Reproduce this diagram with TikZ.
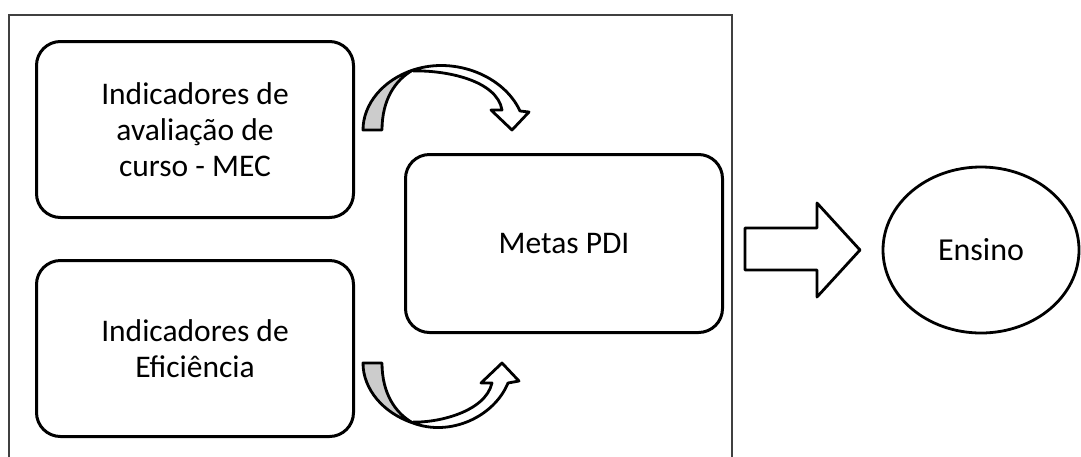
\documentclass[tikz,border=0pt]{standalone}
\usepackage{fontspec}
\setmainfont{Carlito}
\usepackage{tikz}
\usetikzlibrary{positioning,shapes.geometric}

\begin{document}
\begin{tikzpicture}[x=1pt,y=-1pt,
  caixa/.style={draw,line width=3pt,rounded corners=24pt,minimum width=317pt,
    minimum height=176pt,align=center,font=\fontsize{31.5}{36}\selectfont},
  seta/.style={draw,line width=2.8pt,line join=round,fill=white}]
  \useasboundingbox (0,0) rectangle (1081,456);
  % moldura
  \draw[line width=1.5pt,black!75] (9,15) rectangle (732,470);
  % caixas
  \node[caixa,anchor=north west] (avaliacao) at (35,40) {Indicadores de\\avaliação de\\curso - MEC};
  \node[caixa,anchor=north west] (eficiencia) at (35,259) {Indicadores de\\Eficiência};
  \node[caixa,minimum height=178pt,anchor=north west] (metas) at (404,153) {Metas PDI};
  \node[draw,ellipse,line width=2.8pt,minimum width=196pt,minimum height=166pt,
    font=\fontsize{32}{36}\selectfont] (ensino) at (981,250) {Ensino};
  % seta curva superior
  \draw[seta] (413,70) .. controls (455,56) and (504,76) .. (520,111) -- (529,112)
    -- (512,130) -- (491,110) -- (502,110) .. controls (497,80) and (445,70) .. (413,71);
  \draw[seta,fill=black!20] (363,130) .. controls (363,104) and (383,80) .. (413,70)
    .. controls (395,80) and (382,100) .. (382,130) -- cycle;
  % seta curva inferior
  \draw[seta] (413,423) .. controls (450,437) and (494,417) .. (508,383) -- (519,381)
    -- (502,363) -- (481,383) -- (492,383) .. controls (485,413) and (435,423) .. (413,422);
  \draw[seta,fill=black!20] (363,363) .. controls (363,389) and (383,413) .. (413,423)
    .. controls (395,413) and (382,393) .. (382,363) -- cycle;
  % seta larga
  \draw[seta] (745,228) -- (817,228) -- (817,203) -- (860,250) -- (817,297)
    -- (817,270) -- (745,270) -- cycle;
\end{tikzpicture}
\end{document}
